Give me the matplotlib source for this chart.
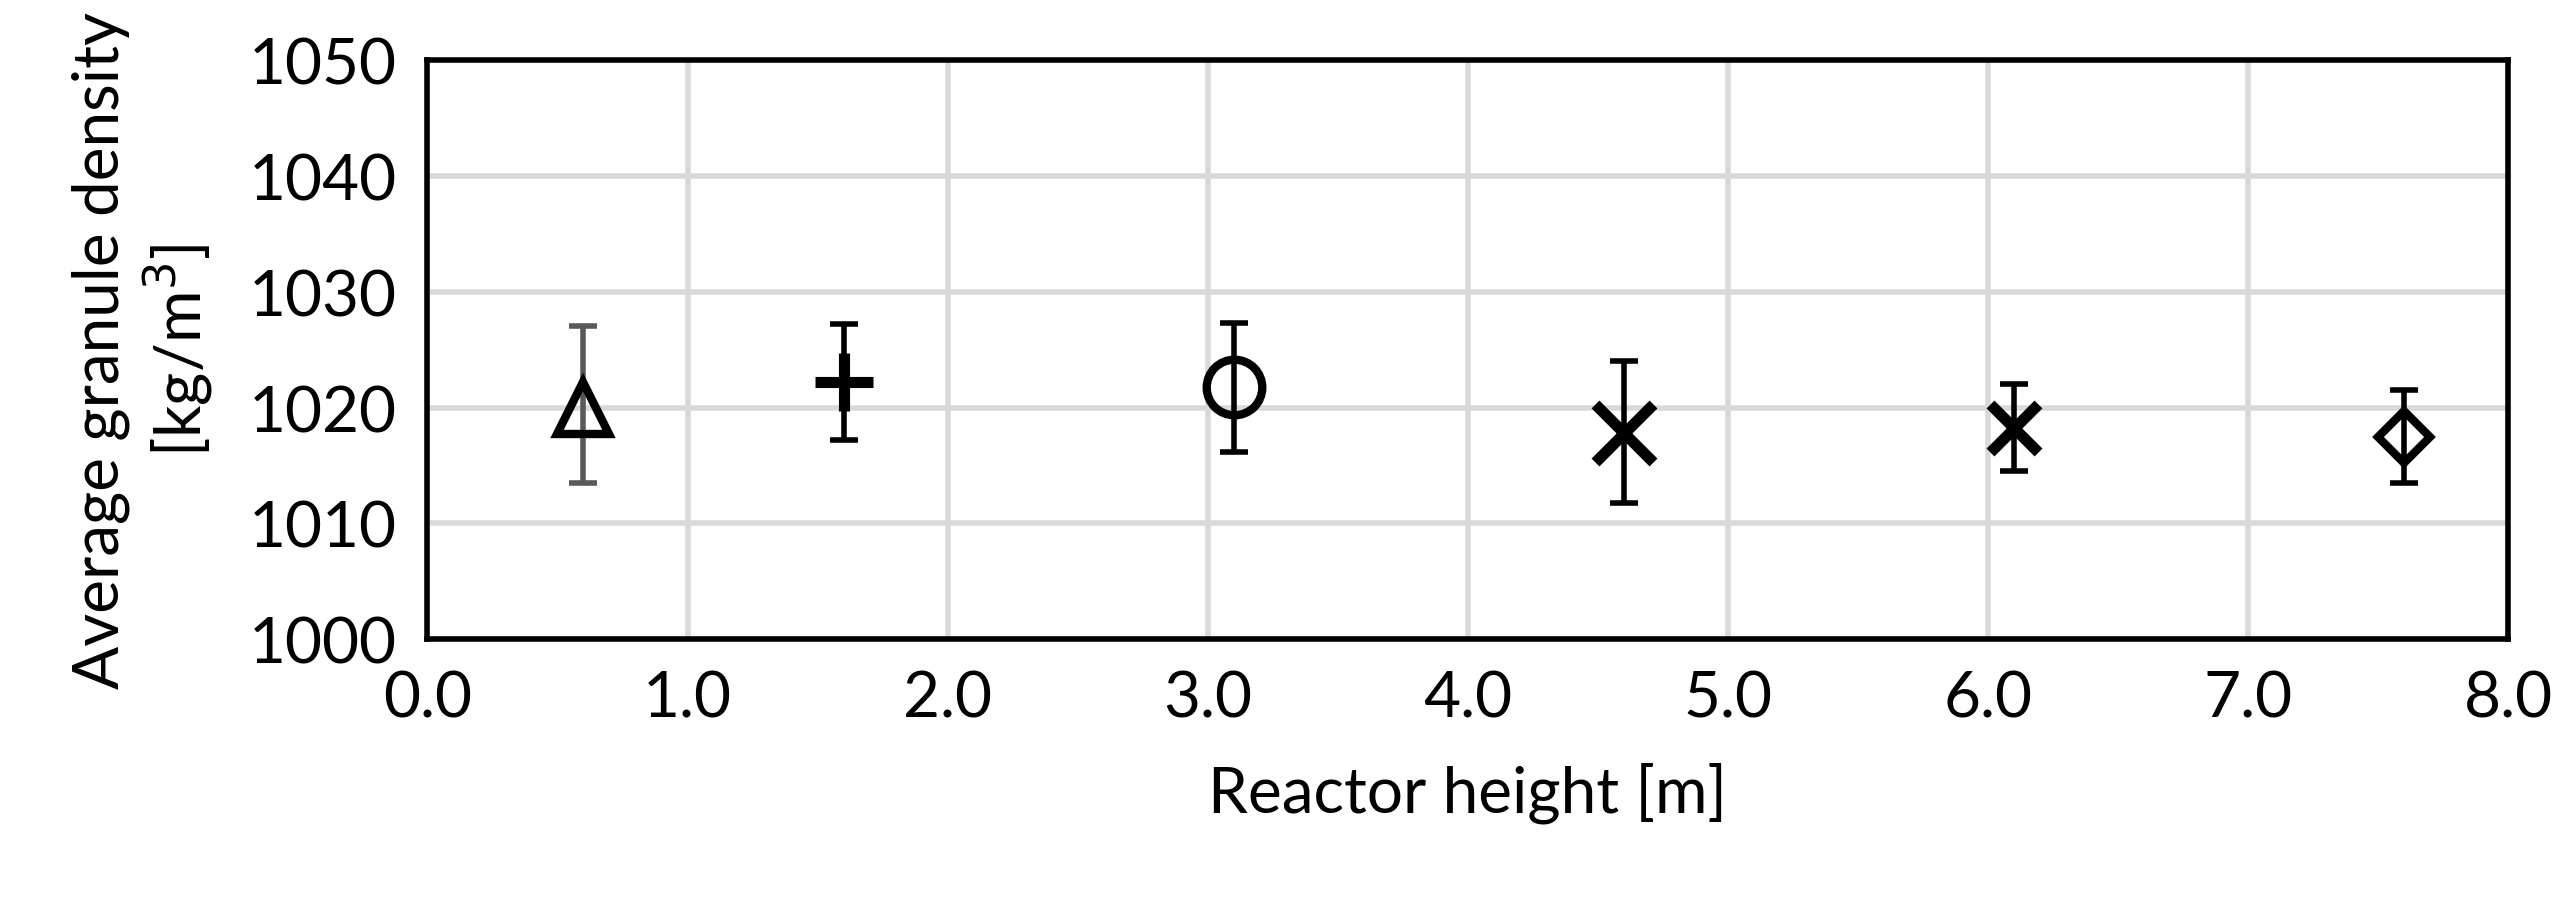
import matplotlib
matplotlib.use("Agg")
import matplotlib.pyplot as plt

heights = [0.6, 1.6, 3.1, 4.6, 6.1, 7.6]
density = [1020.0, 1022.2, 1021.8, 1017.8, 1018.2, 1017.5]
err_low = [1013.5, 1017.2, 1016.2, 1011.8, 1014.5, 1013.5]
err_high = [1027.0, 1027.2, 1027.3, 1024.0, 1022.0, 1021.5]
markers = ['^', '+', 'o', 'x', 'x', 'D']
sizes = [38, 42, 40, 42, 34, 26]
ecolors = ['#595959', 'black', 'black', 'black', 'black', 'black']

plt.rcParams['font.family'] = ['Lato', 'DejaVu Sans']
fig = plt.figure(figsize=(25.75, 9.12), dpi=100)
ax = fig.add_axes([0.166, 0.298, 0.808, 0.635])
for x, y, lo, hi, m, s, ec in zip(heights, density, err_low, err_high, markers, sizes, ecolors):
    ax.errorbar([x], [y], yerr=[[y - lo], [hi - y]], fmt='none', ecolor=ec,
                elinewidth=4, capsize=10, capthick=4, zorder=3)
    ax.plot([x], [y], marker=m, markersize=s, markerfacecolor='none',
            markeredgecolor='black', markeredgewidth=8 if m in '+x' else 6,
            linestyle='none', zorder=4)
ax.set_xlim(0, 8)
ax.set_ylim(1000, 1050)
ax.set_xticks([i for i in range(9)])
ax.set_xticklabels([f"{i:.1f}" for i in range(9)])
ax.set_yticks(range(1000, 1051, 10))
ax.grid(True, color='#d9d9d9', linewidth=4)
ax.set_axisbelow(True)
for sp in ax.spines.values():
    sp.set_linewidth(4)
ax.tick_params(labelsize=46, length=0, pad=22)
ax.set_xlabel('Reactor height [m]', fontsize=46, labelpad=24)
ax.set_ylabel('Average granule density\n[kg/m$^3$]', fontsize=46, labelpad=24)
fig.savefig('out.png', dpi=100)
